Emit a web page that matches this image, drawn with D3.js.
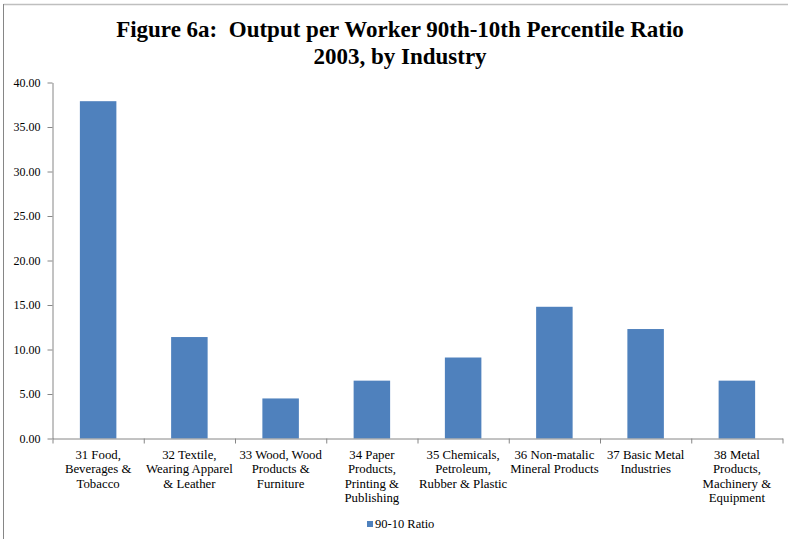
<!DOCTYPE html>
<html>
<head>
<meta charset="UTF-8">
<title>Figure 6a</title>
<script src="https://cdn.jsdelivr.net/npm/d3@7"></script>
<style>
  body { margin: 0; background: #fff; }
  svg text { font-family: "Liberation Serif", "Times New Roman", serif; fill: #000; }
  .title { font-size: 23px; font-weight: bold; }
  .axis text { font-size: 12px; }
  .axis path, .axis line { stroke: #868686; }
</style>
</head>
<body>
<svg width="788" height="539"></svg>
<script>
// data
var categories = [
  ["31 Food,", "Beverages &", "Tobacco"],
  ["32 Textile,", "Wearing Apparel", "& Leather"],
  ["33 Wood, Wood", "Products &", "Furniture"],
  ["34 Paper", "Products,", "Printing &", "Publishing"],
  ["35 Chemicals,", "Petroleum,", "Rubber & Plastic"],
  ["36 Non-matalic", "Mineral Products"],
  ["37 Basic Metal", "Industries"],
  ["38 Metal", "Products,", "Machinery &", "Equipment"]
];
var ratio = [37.9, 11.4, 4.5, 6.5, 9.1, 14.8, 12.3, 6.5];
var yTicks = [0, 5, 10, 15, 20, 25, 30, 35, 40];
var seriesName = "90-10 Ratio";

var svg = d3.select("svg");
var mLeft = 52.5, mRight = 782.5, mTop = 82.5, mBottom = 438.5;

// frame
svg.append("line").attr("x1", 3.5).attr("x2", 788).attr("y1", 4.5).attr("y2", 4.5)
  .attr("stroke", "#bfbfbf").attr("stroke-width", 1.5);
svg.append("line").attr("x1", 3.5).attr("x2", 3.5).attr("y1", 4).attr("y2", 539)
  .attr("stroke", "#868686").attr("stroke-width", 1);

// title
svg.append("text").attr("class", "title").attr("x", 400).attr("y", 37)
  .attr("text-anchor", "middle").text("Figure 6a:  Output per Worker 90th-10th Percentile Ratio")
  .attr("xml:space", "preserve");
svg.append("text").attr("class", "title").attr("x", 400).attr("y", 64)
  .attr("text-anchor", "middle").text("2003, by Industry");

var x = d3.scaleBand().domain(d3.range(categories.length)).range([mLeft, mRight]).paddingInner(0.6).paddingOuter(0.3);
var xEdge = d3.scaleLinear().domain([0, categories.length]).range([mLeft, mRight]);
var y = d3.scaleLinear().domain([0, 40]).range([mBottom, mTop]);

// y axis
var yAxis = svg.append("g").attr("class", "axis").attr("transform", "translate(" + mLeft + ",0)")
  .call(d3.axisLeft(y).tickValues(yTicks).tickSize(5).tickSizeOuter(0).tickFormat(d3.format(".2f")));
yAxis.selectAll("text").attr("x", -12);

// bars
svg.selectAll(".bar").data(ratio).enter().append("rect")
  .attr("class", "bar")
  .attr("x", function (d, i) { return x(i); })
  .attr("width", x.bandwidth())
  .attr("y", function (d) { return y(d); })
  .attr("height", function (d) { return y(0) - y(d); })
  .attr("fill", "#4f81bd");

// x axis with ticks on category edges
svg.append("g").attr("class", "axis").attr("transform", "translate(0," + mBottom + ")")
  .call(d3.axisBottom(xEdge).tickValues(d3.range(categories.length + 1)).tickSize(5).tickSizeOuter(0).tickFormat(""));

var labels = svg.selectAll(".xlab").data(categories).enter().append("text")
  .attr("class", "xlab")
  .attr("text-anchor", "middle")
  .style("font-size", "12.8px")
  .attr("transform", function (d, i) { return "translate(" + (x(i) + x.bandwidth() / 2) + "," + (mBottom + 20) + ")"; });
labels.selectAll("tspan").data(function (d) { return d; }).enter().append("tspan")
  .attr("x", 0)
  .attr("dy", function (d, i) { return i === 0 ? 0 : 14.5; })
  .text(function (d) { return d; });

// legend
var legend = svg.append("g").attr("transform", "translate(367,521)");
legend.append("rect").attr("width", 6).attr("height", 6).attr("fill", "#4f81bd");
legend.append("text").attr("x", 8).attr("y", 6.5).style("font-size", "12.5px").text(seriesName);
</script>
</body>
</html>
